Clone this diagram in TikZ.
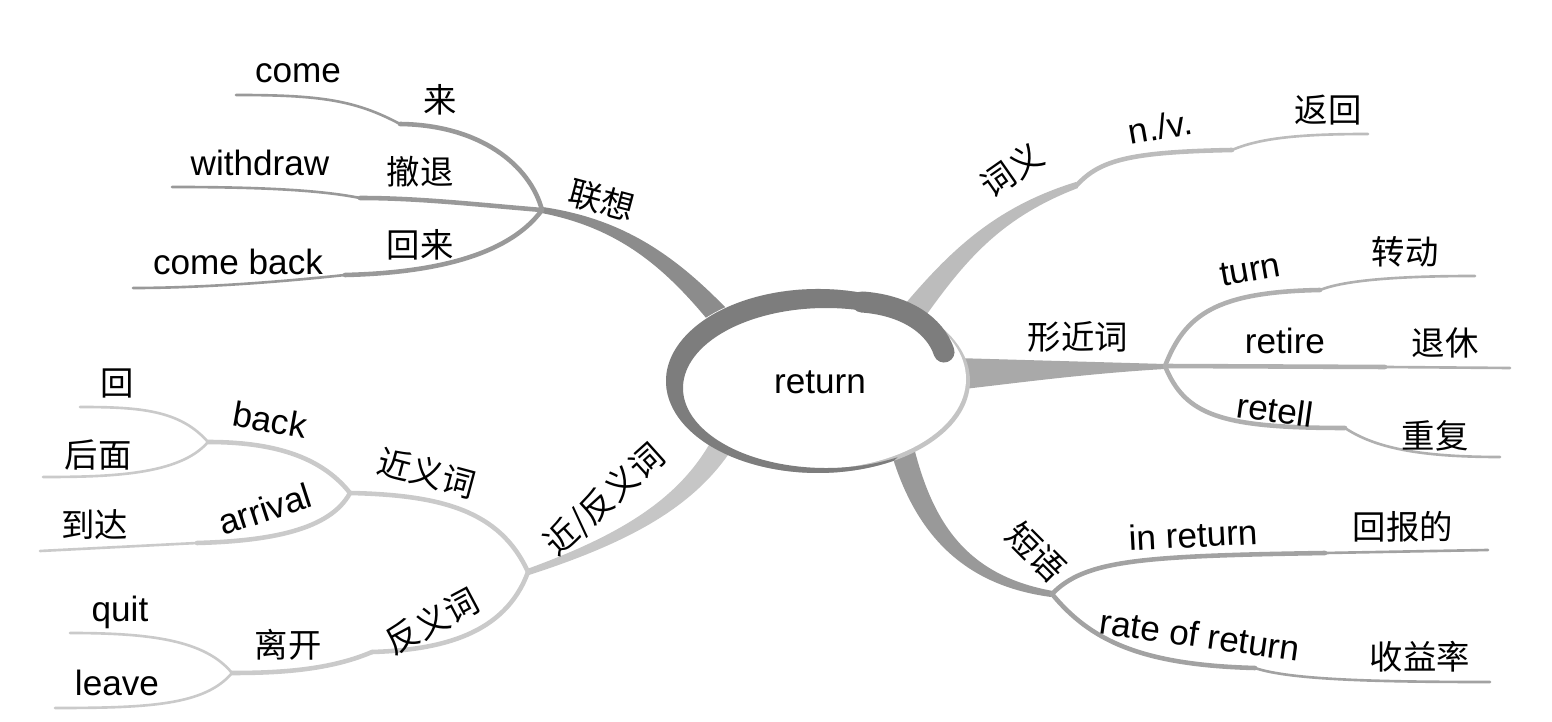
\documentclass[tikz,border=0pt]{standalone}
\usepackage{fontspec}
\setmainfont{Liberation Sans}
\newfontfamily\cjk{Noto Sans CJK SC}
\usepackage{tikz}
\usetikzlibrary{calc}
\definecolor{ringgray}{HTML}{7D7D7D}
\definecolor{rimgray}{HTML}{C4C4C4}
\definecolor{lxgray}{HTML}{8C8C8C}
\definecolor{lxsub}{HTML}{999999}
\definecolor{cygray}{HTML}{BCBCBC}
\definecolor{xjgray}{HTML}{A9A9A9}
\definecolor{xjsub}{HTML}{B0B0B0}
\definecolor{dygray}{HTML}{999999}
\definecolor{dysub}{HTML}{A2A2A2}
\definecolor{jfgray}{HTML}{C6C6C6}
\definecolor{jfsub}{HTML}{CACACA}

\begin{document}
\begin{tikzpicture}[x=0.02cm,y=-0.02cm,
    en/.style={font=\fontsize{20}{24}\selectfont, inner sep=0pt},
    zh/.style={font=\cjk\fontsize{19}{22}\selectfont, inner sep=0pt},
    twig/.style={line width=2.6pt, line cap=round},
    tip/.style={line width=1.5pt, line cap=round}]
    \useasboundingbox (0,0) rectangle (1552,722);

    % forks
    \coordinate (lx) at (542,210);
    \coordinate (cy) at (1077,185);
    \coordinate (xj) at (1165,366);
    \coordinate (dy) at (1052,594);
    \coordinate (jf) at (528,572);

    % main branches
    \fill[lxgray] (743,326) .. controls (685,263) and (631.5,220) .. ($(lx)+(0.5,-3)$)
        -- ($(lx)+(-0.5,3)$) .. controls (628.5,230) and (675,277) .. (727,344) -- cycle;
    \fill[cygray] (910,338) .. controls (958,270) and (992,221) .. ($(cy)+(1,3)$)
        -- ($(cy)+(-1,-3)$) .. controls (988,209) and (942,259) .. (890,322) -- cycle;
    \fill[xjgray] (955,358) -- ($(xj)+(0,-2)$) -- ($(xj)+(0,3)$)
        .. controls (1080,374) and (1010,384) .. (955,390) -- cycle;
    \fill[dygray] (889,445) .. controls (912,530) and (960,585) .. ($(dy)+(-1,3)$)
        -- ($(dy)+(1,-3)$) .. controls (964,575) and (930,520) .. (911,435) -- cycle;
    \fill[jfgray] (715,434) .. controls (684,494) and (629,532) .. ($(jf)+(-1,-3)$)
        -- ($(jf)+(1,3)$) .. controls (631,542) and (696,506) .. (734,446) -- cycle;

    % 联想
    \coordinate (come-k) at (400,124);
    \coordinate (come-e) at (236,95);
    \coordinate (withdraw-k) at (360,198);
    \coordinate (withdraw-e) at (172,187);
    \coordinate (comeback-k) at (345,275);
    \coordinate (comeback-e) at (133,288);
    \draw[twig, lxsub] (lx) .. controls (530,165) and (480,125) .. (come-k);
    \draw[tip, lxsub] (come-k) .. controls (355,100) and (320,95) .. (come-e);
    \draw[twig, lxsub] (lx) .. controls (480,205) and (420,198) .. (withdraw-k);
    \draw[tip, lxsub] (withdraw-k) .. controls (320,190) and (260,187) .. (withdraw-e);
    \draw[twig, lxsub] (lx) .. controls (520,240) and (470,272) .. (comeback-k);
    \draw[tip, lxsub] (comeback-k) .. controls (280,282) and (200,288) .. (comeback-e);

    % 词义
    \coordinate (nv-k) at (1232,150);
    \coordinate (nv-e) at (1368,134);
    \draw[twig, cygray] (cy) .. controls (1100,160) and (1130,152) .. (nv-k);
    \draw[tip, cygray] (nv-k) .. controls (1260,138) and (1300,134) .. (nv-e);

    % 形近词
    \coordinate (turn-k) at (1320,290);
    \coordinate (turn-e) at (1475,276);
    \coordinate (retire-k) at (1385,367);
    \coordinate (retire-e) at (1510,368);
    \coordinate (retell-k) at (1345,428);
    \coordinate (retell-e) at (1500,457);
    \draw[twig, xjsub] (xj) .. controls (1185,315) and (1215,292) .. (turn-k);
    \draw[tip, xjsub] (turn-k) .. controls (1345,280) and (1400,276) .. (turn-e);
    \draw[twig, xjsub] (xj) -- (retire-k);
    \draw[tip, xjsub] (retire-k) -- (retire-e);
    \draw[twig, xjsub] (xj) .. controls (1185,415) and (1220,428) .. (retell-k);
    \draw[tip, xjsub] (retell-k) .. controls (1375,448) and (1420,457) .. (retell-e);

    % 短语
    \coordinate (inreturn-k) at (1325,553);
    \coordinate (inreturn-e) at (1488,550);
    \coordinate (rate-k) at (1255,668);
    \coordinate (rate-e) at (1490,682);
    \draw[twig, dysub] (dy) .. controls (1085,560) and (1140,556) .. (inreturn-k);
    \draw[tip, dysub] (inreturn-k) -- (inreturn-e);
    \draw[twig, dysub] (dy) .. controls (1090,640) and (1140,665) .. (rate-k);
    \draw[tip, dysub] (rate-k) .. controls (1290,680) and (1380,682) .. (rate-e);

    % 近/反义词
    \coordinate (jy) at (350,493);
    \coordinate (bk) at (208,442);
    \coordinate (hui-e) at (80,407);
    \coordinate (houmian-e) at (43,477);
    \coordinate (arrival-k) at (197,543);
    \coordinate (arrival-e) at (40,551);
    \coordinate (fy-k) at (372,652);
    \coordinate (fy) at (232,673);
    \coordinate (quit-e) at (70,633);
    \coordinate (leave-e) at (55,708);
    \draw[twig, jfsub] (jf) .. controls (500,510) and (440,495) .. (jy);
    \draw[twig, jfsub] (jy) .. controls (320,455) and (270,442) .. (bk);
    \draw[tip, jfsub] (bk) .. controls (180,410) and (140,407) .. (hui-e);
    \draw[tip, jfsub] (bk) .. controls (180,475) and (110,477) .. (houmian-e);
    \draw[twig, jfsub] (jy) .. controls (330,530) and (270,541) .. (arrival-k);
    \draw[tip, jfsub] (arrival-k) -- (arrival-e);
    \draw[twig, jfsub] (jf) .. controls (505,635) and (440,650) .. (fy-k);
    \draw[twig, jfsub] (fy-k) .. controls (330,670) and (280,673) .. (fy);
    \draw[tip, jfsub] (fy) .. controls (205,640) and (150,633) .. (quit-e);
    \draw[tip, jfsub] (fy) .. controls (205,705) and (150,708) .. (leave-e);

    % centre
    \fill[rimgray] (818,381) ellipse [x radius=152, y radius=92];
    \fill[white] (816,379) ellipse [x radius=150, y radius=90];
    \fill[ringgray] (818,381) ++(300:152 and 92) arc [start angle=300, end angle=60, x radius=152, y radius=92]
        -- ($(826,388)+(60:143 and 80)$) arc [start angle=60, end angle=300, x radius=143, y radius=80] -- cycle;
    \draw[ringgray, line width=12pt, line cap=round] (862,302) .. controls (905,305) and (935,325) .. (944,352);
    \node[en] (return) at (820,382) {return};

    % labels
    \node[en] (come) at (298,73) {come};
    \node[zh] (lai) at (440,100) {来};
    \node[en] (withdraw) at (260,163) {withdraw};
    \node[zh] (chetui) at (420,172) {撤退};
    \node[en] (comeback) at (238,262) {come back};
    \node[zh] (huilai) at (420,245) {回来};
    \node[zh, rotate=-15] (lianxiang) at (602,200) {联想};
    \node[zh, rotate=35] (ciyi) at (1012,170) {词义};
    \node[en, rotate=10] (nv) at (1160,127) {n./v.};
    \node[zh] (fanhui) at (1328,110) {返回};
    \node[zh] (xingjinci) at (1078,337) {形近词};
    \node[en, rotate=10] (turn) at (1250,270) {turn};
    \node[zh] (zhuandong) at (1405,252) {转动};
    \node[en] (retire) at (1285,341) {retire};
    \node[zh] (tuixiu) at (1445,343) {退休};
    \node[en, rotate=-8] (retell) at (1275,410) {retell};
    \node[zh] (chongfu) at (1435,436) {重复};
    \node[zh, rotate=-45] (duanyu) at (1036,552) {短语};
    \node[en, rotate=3] (inreturn) at (1193,535) {in return};
    \node[zh] (huibaode) at (1403,527) {回报的};
    \node[en, rotate=-8] (rateofreturn) at (1200,635) {rate of return};
    \node[zh] (shouyilv) at (1420,657) {收益率};
    \node[zh, rotate=42] (jinfanyici) at (605,500) {近/反义词};
    \node[zh, rotate=-15] (jinyici) at (427,473) {近义词};
    \node[en, rotate=-10] (back) at (270,420) {back};
    \node[zh] (hui) at (117,383) {回};
    \node[zh] (houmian) at (98,455) {后面};
    \node[en, rotate=18] (arrival) at (265,509) {arrival};
    \node[zh] (daoda) at (95,525) {到达};
    \node[zh, rotate=28] (fanyici) at (432,621) {反义词};
    \node[zh] (likai) at (288,645) {离开};
    \node[en] (quit) at (120,612) {quit};
    \node[en] (leave) at (117,683) {leave};
\end{tikzpicture}
\end{document}
